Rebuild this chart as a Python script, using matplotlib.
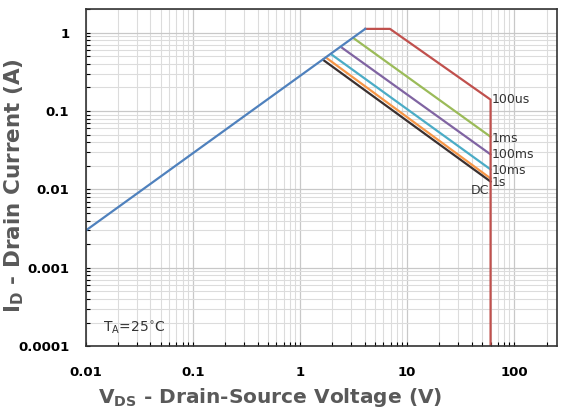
import matplotlib
matplotlib.use("Agg")
import matplotlib.pyplot as plt
from matplotlib.ticker import LogLocator, FixedLocator, FixedFormatter, NullFormatter

# on-resistance limit line
v_rds = [0.01, 4.05]
i_rds = [0.003, 1.12]

# 100us curve (flat top, slope, then vertical at 60 V)
v_100us = [4.05, 6.9, 60, 60]
i_100us = [1.12, 1.12, 0.14, 0.0001]

# remaining pulse widths: start on the Rds line, end at 60 V
labels = ['1ms', '100ms', '10ms', '1s', 'DC']
v_start = [3.2, 2.47, 1.99, 1.75, 1.64]
i_start = [0.84, 0.64, 0.52, 0.48, 0.45]
v_end = [60, 60, 60, 60, 60]
i_end = [0.047, 0.028, 0.018, 0.0138, 0.0126]
colors = ['#9bbb59', '#8064a2', '#4bacc6', '#f79646', '#3a3030']
# where the curve labels sit
label_i = [0.045, 0.028, 0.0173, 0.0121, 0.0098]

xticks = [0.01, 0.1, 1, 10, 100]
xticklabels = ['0.01', '0.1', '1', '10', '100']
yticks = [0.0001, 0.001, 0.01, 0.1, 1]
yticklabels = ['0.0001', '0.001', '0.01', '0.1', '1']

fig = plt.figure(figsize=(5.62, 4.16), dpi=100)
ax = fig.add_axes([0.153, 0.168, 0.838, 0.81])
ax.set_xscale('log')
ax.set_yscale('log')
ax.set_xlim(0.01, 250)
ax.set_ylim(0.0001, 2)

ax.grid(which='major', color='#c8c8c8', linewidth=0.9)
ax.grid(which='minor', color='#dcdcdc', linewidth=0.8)
ax.set_axisbelow(True)

for c, lab in enumerate(labels):
    ax.plot([v_start[c], v_end[c]], [i_start[c], i_end[c]], color=colors[c], linewidth=1.6)
ax.plot(v_100us, i_100us, color='#c0504d', linewidth=1.6)
ax.plot(v_rds, i_rds, color='#4f81bd', linewidth=1.6)

# curve labels
ax.text(61, i_100us[2], '100us', fontsize=9, va='center', ha='left', color='#333333')
for c, lab in enumerate(labels[:-1]):
    ax.text(61, label_i[c], lab, fontsize=9, va='center', ha='left', color='#333333')
ax.text(58, label_i[-1], 'DC', fontsize=9, va='center', ha='right', color='#333333')

ax.text(0.0145, 0.000155, 'T$\\mathregular{_A}$=25$^{\\circ}$C', fontsize=10, color='#333333')

ax.xaxis.set_major_locator(FixedLocator(xticks))
ax.xaxis.set_major_formatter(FixedFormatter(xticklabels))
ax.yaxis.set_major_locator(FixedLocator(yticks))
ax.yaxis.set_major_formatter(FixedFormatter(yticklabels))
ax.xaxis.set_minor_locator(LogLocator(base=10, subs=range(2, 10)))
ax.yaxis.set_minor_locator(LogLocator(base=10, subs=range(2, 10)))
ax.xaxis.set_minor_formatter(NullFormatter())
ax.yaxis.set_minor_formatter(NullFormatter())
ax.tick_params(which='both', direction='in', length=3, width=0.8)
ax.tick_params(axis='x', which='major', pad=14)
ax.tick_params(axis='y', which='major', pad=12)
ax.tick_params(which='major', labelsize=9.5)
for lbl in ax.get_xticklabels() + ax.get_yticklabels():
    lbl.set_fontweight('bold')

for sp in ax.spines.values():
    sp.set_color('#333333')
    sp.set_linewidth(1.2)

ax.set_xlabel('V$_{\\mathregular{DS}}$ - Drain-Source Voltage (V)', fontsize=14.5,
              fontweight='bold', color='#595959')
ax.xaxis.set_label_coords(0.39, -0.118)
ax.set_ylabel('I$_{\\mathregular{D}}$ - Drain Current (A)', fontsize=15.5,
              fontweight='bold', color='#595959')
ax.yaxis.set_label_coords(-0.127, 0.475)

fig.savefig('out.png', dpi=100)
